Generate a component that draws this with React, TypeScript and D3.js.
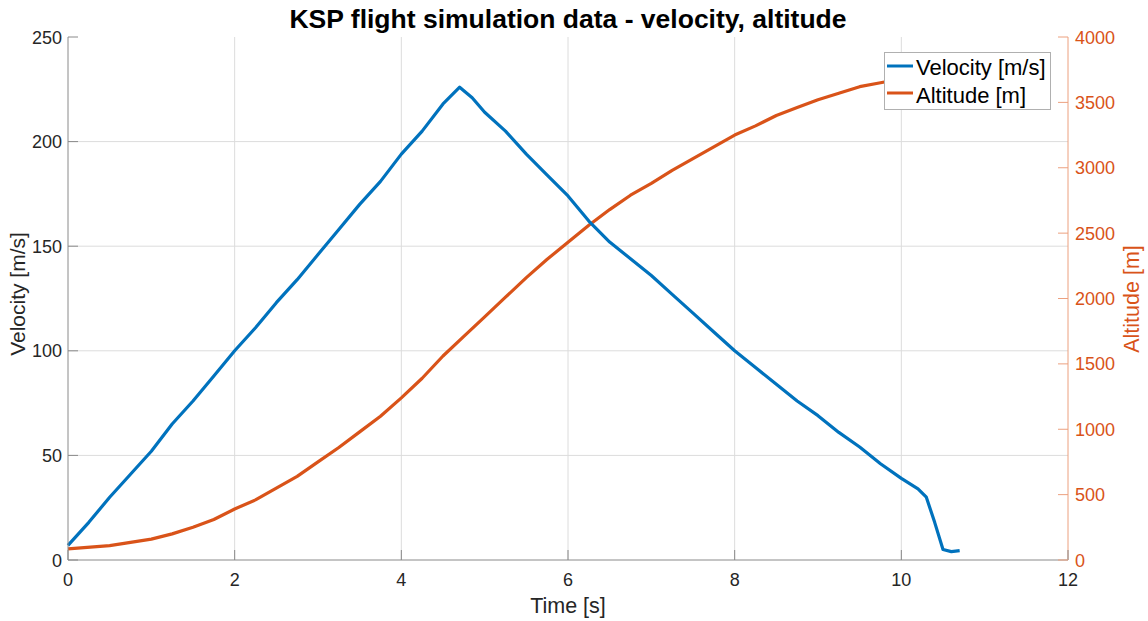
import React from "react";
import * as d3 from "d3";

const velT = [0,0.25,0.5,0.75,1.0,1.25,1.5,1.75,2.0,2.25,2.5,2.75,3.0,3.25,3.5,3.75,4.0,4.25,4.5,4.7,4.85,5.0,5.25,5.5,5.75,6.0,6.25,6.5,6.75,7.0,7.25,7.5,7.75,8.0,8.25,8.5,8.75,9.0,9.25,9.5,9.75,10.0,10.2,10.3,10.4,10.5,10.6,10.7];
const velV = [7,18,30,41,52,65,76,88,100,111,123,134,146,158,170,181,194,205,218,226,221,214,205,194,184,174,162,152,144,136,127,118,109,100,92,84,76,69,61,54,46,39,34,30,18,5,4,4.5];

const altT = [0,0.5,1.0,1.25,1.5,1.75,2.0,2.25,2.5,2.75,3.0,3.25,3.5,3.75,4.0,4.25,4.5,4.75,5.0,5.25,5.5,5.75,6.0,6.25,6.5,6.75,7.0,7.25,7.5,7.75,8.0,8.25,8.5,8.75,9.0,9.25,9.5,9.75,10.0,10.25,10.5,10.7];
const altV = [85,110,160,200,250,310,390,460,550,640,750,860,980,1100,1240,1390,1560,1710,1860,2010,2160,2300,2430,2560,2680,2790,2880,2980,3070,3160,3250,3320,3400,3460,3520,3570,3620,3650,3680,3705,3725,3735];

const xTicks = [0,2,4,6,8,10,12];
const yLeftTicks = [0,50,100,150,200,250];
const yRightTicks = [0,500,1000,1500,2000,2500,3000,3500,4000];

const BLUE = "#0072BD";
const ORANGE = "#D95319";
const FONT = "'Liberation Sans', Arial, sans-serif";

export default function App() {
  const W = 1148, H = 621;
  const L = 68, R = 1068, T = 37, B = 560;
  const x = d3.scaleLinear().domain([0, 12]).range([L, R]);
  const yL = d3.scaleLinear().domain([0, 250]).range([B, T]);
  const yR = d3.scaleLinear().domain([0, 4000]).range([B, T]);

  const velLine = d3.line<number>().x((_, i) => x(velT[i])).y((d) => yL(d));
  const altLine = d3.line<number>().x((_, i) => x(altT[i])).y((d) => yR(d));

  const grid = "#dcdcdc";
  const axisGray = "#8a8a8a";

  return (
    <svg width={W} height={H} style={{ position: "absolute", left: 0, top: 0, background: "#fff" }} fontFamily={FONT}>
      <rect x={0} y={0} width={W} height={H} fill="#fff" />
      {xTicks.slice(1, -1).map((t) => (
        <line key={"gx" + t} x1={x(t)} x2={x(t)} y1={T} y2={B} stroke={grid} strokeWidth={1} />
      ))}
      {yLeftTicks.slice(1, -1).map((t) => (
        <line key={"gy" + t} x1={L} x2={R} y1={yL(t)} y2={yL(t)} stroke={grid} strokeWidth={1} />
      ))}
      <path d={altLine(altV) || ""} fill="none" stroke={ORANGE} strokeWidth={3.2} strokeLinejoin="round" />
      <path d={velLine(velV) || ""} fill="none" stroke={BLUE} strokeWidth={3.2} strokeLinejoin="round" />
      <line x1={L} x2={R} y1={B} y2={B} stroke={axisGray} strokeWidth={1} />
      <line x1={L} x2={L} y1={T} y2={B} stroke={axisGray} strokeWidth={1} />
      <line x1={R} x2={R} y1={T} y2={B} stroke="#ECA07F" strokeWidth={1} />
      {xTicks.map((t) => (
        <g key={"xt" + t}>
          <line x1={x(t)} x2={x(t)} y1={B} y2={B - 10} stroke={axisGray} />
          <text x={x(t)} y={586} textAnchor="middle" fontSize={18} fill="#262626">{t}</text>
        </g>
      ))}
      {yLeftTicks.map((t) => (
        <g key={"yl" + t}>
          <line x1={L} x2={L + 10} y1={yL(t)} y2={yL(t)} stroke={axisGray} />
          <text x={62} y={yL(t) + 6.5} textAnchor="end" fontSize={18} fill="#262626">{t}</text>
        </g>
      ))}
      {yRightTicks.map((t) => (
        <g key={"yr" + t}>
          <line x1={R} x2={R - 10} y1={yR(t)} y2={yR(t)} stroke="#ECA07F" />
          <text x={1075} y={yR(t) + 6.5} textAnchor="start" fontSize={18} fill={ORANGE}>{t}</text>
        </g>
      ))}
      <text x={568} y={28} textAnchor="middle" fontSize={26.5} fontWeight="bold" fill="#000">KSP flight simulation data - velocity, altitude</text>
      <text x={568} y={613} textAnchor="middle" fontSize={21.5} fill="#262626">Time [s]</text>
      <text transform={`translate(25,294) rotate(-90)`} textAnchor="middle" fontSize={21} fill="#262626">Velocity [m/s]</text>
      <text transform={`translate(1139,299) rotate(-90)`} textAnchor="middle" fontSize={21.5} fill={ORANGE}>Altitude [m]</text>
      <rect x={884.5} y={52.5} width={166} height={57} fill="#fff" stroke="#b0b0b0" strokeWidth={1} />
      <line x1={887} x2={913} y1={66} y2={66} stroke={BLUE} strokeWidth={3} />
      <text x={916} y={75} fontSize={22} fill="#000">Velocity [m/s]</text>
      <line x1={887} x2={913} y1={93} y2={93} stroke={ORANGE} strokeWidth={3} />
      <text x={916} y={103} fontSize={22} fill="#000">Altitude [m]</text>
    </svg>
  );
}
